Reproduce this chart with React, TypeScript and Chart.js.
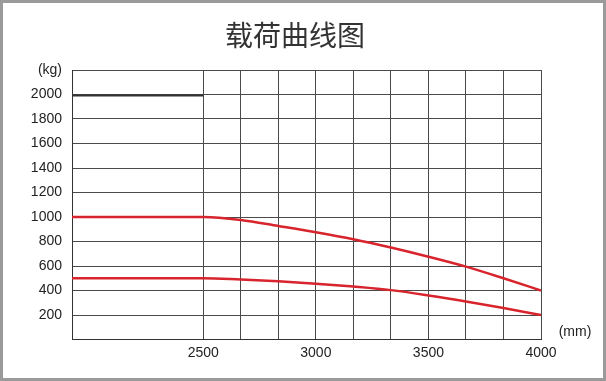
import React, { useEffect, useRef } from "react";
import { Chart, registerables } from "chart.js";

Chart.register(...registerables);

const TITLE = "载荷曲线图";
const Y_UNIT = "(kg)";
const X_UNIT = "(mm)";

// Lifting height (mm) positions at which loads are read
const X_POSITIONS = [1917, 2500, 2666.67, 2833.33, 3000, 3166.67, 3333.33, 3500, 3666.67, 3833.33, 4000];
// Load capacity (kg)
const LOAD_UPPER = [1000, 1000, 976, 927, 876, 819, 751, 676, 595, 500, 400];
const LOAD_LOWER = [500, 500, 489, 475, 456, 432, 403, 360, 311, 257, 200];

// Axis ticks
const X_GRID = [2500, 2666.67, 2833.33, 3000, 3166.67, 3333.33, 3500, 3666.67, 3833.33, 4000];
const X_LABELS = [2500, 3000, 3500, 4000];
const X_MIN = 1917;
const X_MAX = 4000;
const Y_MIN = 0;
const Y_MAX = 2200;
const Y_STEP = 200;
const Y_MARK = 2000;

const FONT = '"Liberation Sans", Arial, sans-serif';
const RED = "#d8242c";
const GRID = "#4a4a4a";

export default function App() {
  const ref = useRef<HTMLCanvasElement | null>(null);

  useEffect(() => {
    document.body.style.margin = "0";
    const canvas = ref.current;
    if (!canvas) return;

    const decor = {
      id: "decor",
      beforeDatasetsDraw(chart: any) {
        const { ctx, chartArea, scales } = chart;
        const y = scales.y.getPixelForValue(Y_MARK);
        const x2 = scales.x.getPixelForValue(X_LABELS[0]);
        ctx.save();
        ctx.strokeStyle = "#333";
        ctx.lineWidth = 2;
        ctx.beginPath();
        ctx.moveTo(chartArea.left, Math.round(y) + 0.5);
        ctx.lineTo(x2, Math.round(y) + 0.5);
        ctx.stroke();
        ctx.restore();
      },
      afterDraw(chart: any) {
        const { ctx, chartArea } = chart;
        ctx.save();
        ctx.fillStyle = "#333";
        ctx.textAlign = "center";
        ctx.textBaseline = "middle";
        ctx.font = '28px "Noto Sans CJK SC", sans-serif';
        ctx.fillText(TITLE, 295, 35);
        ctx.fillStyle = "#222";
        ctx.font = "14px " + FONT;
        ctx.fillText(X_UNIT, chartArea.right + 34, chartArea.bottom - 7);
        ctx.restore();
      },
    };

    const chart = new Chart(canvas, {
      type: "line",
      data: {
        datasets: [
          {
            data: X_POSITIONS.map((x, i) => ({ x, y: LOAD_UPPER[i] })),
            borderColor: RED,
            borderWidth: 2.5,
            pointRadius: 0,
            cubicInterpolationMode: "monotone",
            fill: false,
          },
          {
            data: X_POSITIONS.map((x, i) => ({ x, y: LOAD_LOWER[i] })),
            borderColor: RED,
            borderWidth: 2.5,
            pointRadius: 0,
            cubicInterpolationMode: "monotone",
            fill: false,
          },
        ],
      },
      options: {
        animation: false,
        responsive: false,
        maintainAspectRatio: false,
        layout: { padding: { top: 70, right: 65, bottom: 0, left: 0 } },
        plugins: {
          legend: { display: false },
          title: { display: false },
          tooltip: { enabled: false },
        },
        scales: {
          x: {
            type: "linear",
            min: X_MIN,
            max: X_MAX,
            afterBuildTicks: (scale: any) => {
              scale.ticks = X_GRID.map((v) => ({ value: v }));
            },
            afterFit: (scale: any) => {
              scale.height = 41.5;
            },
            grid: { color: GRID, lineWidth: 1, drawTicks: false },
            border: { color: "#333", width: 1 },
            ticks: {
              autoSkip: false,
              maxRotation: 0,
              padding: 5,
              color: "#222",
              font: { size: 14, family: FONT },
              callback: (v: any) => {
                const r = Math.round(Number(v));
                return X_LABELS.includes(r) ? String(r) : "";
              },
            },
          },
          y: {
            min: Y_MIN,
            max: Y_MAX,
            afterFit: (scale: any) => {
              scale.width = 72;
            },
            grid: { color: GRID, lineWidth: 1, drawTicks: false },
            border: { color: "#333", width: 1 },
            ticks: {
              stepSize: Y_STEP,
              padding: 10,
              color: "#222",
              font: { size: 14, family: FONT },
              callback: (v: any) => {
                const n = Number(v);
                if (n === Y_MAX) return Y_UNIT;
                if (n === Y_MIN) return "";
                return String(n);
              },
            },
          },
        },
      },
      plugins: [decor],
    } as any);

    return () => chart.destroy();
  }, []);

  return (
    <div style={{ position: "relative", width: 606, height: 381, background: "#fff", overflow: "hidden" }}>
      <canvas ref={ref} width={606} height={381} style={{ position: "absolute", left: 0, top: 0, width: 606, height: 381 }} />
      <div
        style={{
          position: "absolute",
          left: 0,
          top: 0,
          width: 606,
          height: 381,
          boxSizing: "border-box",
          border: "3px solid #9a9a9a",
          pointerEvents: "none",
        }}
      />
    </div>
  );
}
